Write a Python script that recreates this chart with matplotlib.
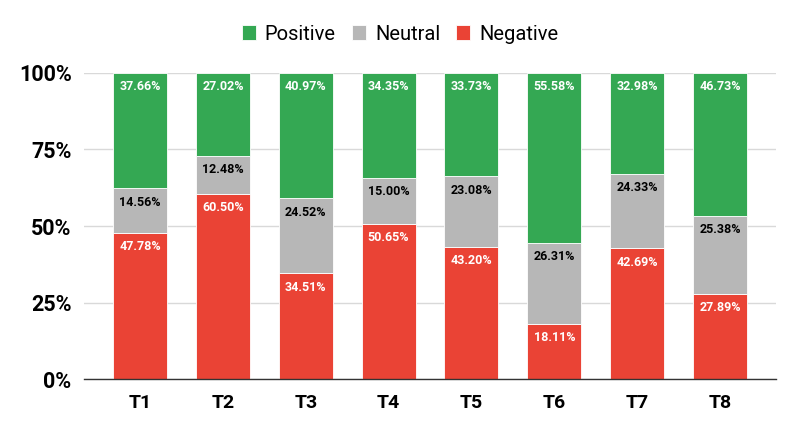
import numpy as np
import matplotlib.pyplot as plt

plt.rcParams['font.family'] = ['Roboto', 'DejaVu Sans']

groups = ['T1', 'T2', 'T3', 'T4', 'T5', 'T6', 'T7', 'T8']
negative = [47.78, 60.50, 34.51, 50.65, 43.20, 18.11, 42.69, 27.89]
neutral = [14.56, 12.48, 24.52, 15.00, 23.08, 26.31, 24.33, 25.38]
positive = [37.66, 27.02, 40.97, 34.35, 33.73, 55.58, 32.98, 46.73]

series = [
    ('Negative', negative, '#ea4335', 'white'),
    ('Neutral', neutral, '#b7b7b7', 'black'),
    ('Positive', positive, '#34a853', 'white'),
]

fig = plt.figure(figsize=(7.97, 4.36), dpi=100)
ax = fig.add_axes([0.1054, 0.1307, 0.8683, 0.7019])

x = np.arange(len(groups))
bottom = np.zeros(len(groups))
handles = {}
for name, vals, color, tcolor in series:
    vals = np.array(vals)
    bars = ax.bar(x, vals, 0.653, bottom=bottom, color=color,
                  edgecolor='white', linewidth=0.6, zorder=2)
    handles[name] = bars
    for xi, b, v in zip(x, bottom, vals):
        ax.annotate('{:.2f}%'.format(v), (xi, b + v), xytext=(0, -10),
                    textcoords='offset points', ha='center', va='center',
                    color=tcolor, fontsize=9, fontweight='bold', zorder=3)
    bottom = bottom + vals

ax.set_xlim(-0.677, len(groups) - 1 + 0.677)
ax.set_ylim(0, 100)
ax.set_yticks([0, 25, 50, 75, 100])
ax.set_yticklabels(['0%', '25%', '50%', '75%', '100%'])
ax.set_xticks(x)
ax.set_xticklabels(groups)
ax.tick_params(axis='y', length=0, pad=9, labelsize=15.5)
ax.tick_params(axis='x', length=0, pad=11, labelsize=14)
for lab in ax.get_xticklabels() + ax.get_yticklabels():
    lab.set_fontweight('bold')
ax.grid(axis='y', color='#d9d9d9', linewidth=1, zorder=0)
for side in ['top', 'right', 'left']:
    ax.spines[side].set_visible(False)
ax.spines['bottom'].set_color('#333333')
ax.spines['bottom'].set_linewidth(1)
ax.spines['bottom'].set_zorder(4)

order = ['Positive', 'Neutral', 'Negative']
fig.legend([handles[n] for n in order], order, loc='center',
           bbox_to_anchor=(0.502, 0.922), ncol=3, frameon=False,
           fontsize=14.5, handlelength=0.7, handleheight=0.7,
           handletextpad=0.45, columnspacing=0.8)

fig.savefig('out.png', dpi=100)
